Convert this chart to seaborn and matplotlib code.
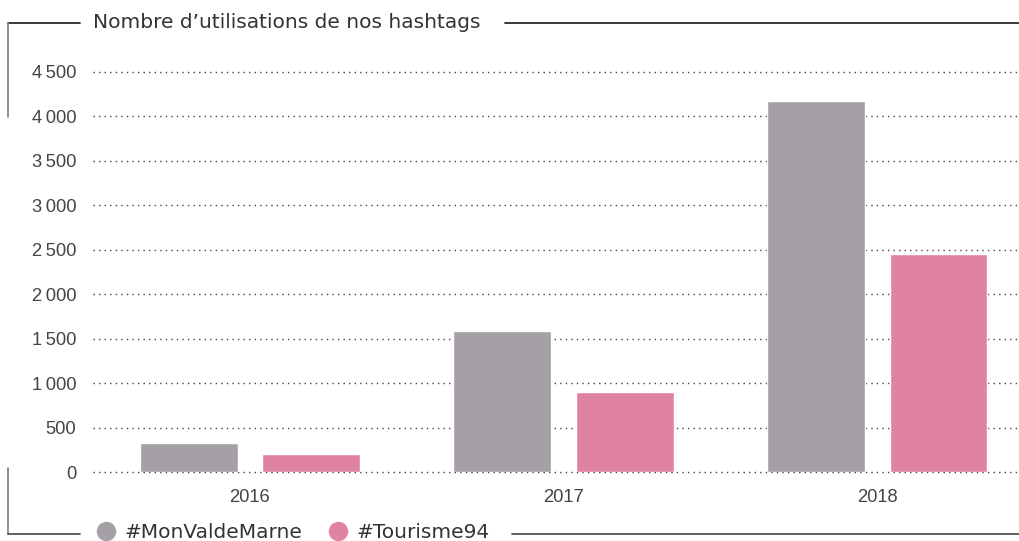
import pandas as pd
import matplotlib.pyplot as plt
import matplotlib.ticker as mticker
from matplotlib.lines import Line2D
import seaborn as sns

# ── Données ────────────────────────────────────────────────────────────────────
annees = ["2016", "2017", "2018"]
mon_val_de_marne = [325, 1590, 4170]
tourisme94 = [205, 900, 2450]
series = ["#MonValdeMarne", "#Tourisme94"]
y_ticks = [0, 500, 1000, 1500, 2000, 2500, 3000, 3500, 4000, 4500]

COR_GRIS = "#A59FA6"
COR_ROSE = "#E083A1"
COR_TEXTE = "#444444"

df = pd.DataFrame({
    "annee": annees * 2,
    "valeur": mon_val_de_marne + tourisme94,
    "serie": [series[0]] * 3 + [series[1]] * 3,
})

sns.set_theme(style="white")
plt.rcParams["font.family"] = ["Liberation Sans", "DejaVu Sans"]

fig = plt.figure(figsize=(10.2, 5.41), dpi=100)
ax = fig.add_axes([0.0912, 0.1275, 0.9088, 0.7725])

sns.barplot(data=df, x="annee", y="valeur", hue="serie", order=annees,
            palette=[COR_GRIS, COR_ROSE], width=0.78, gap=0.2,
            saturation=1, legend=False, ax=ax, zorder=3)

ax.set_ylim(0, 4700)
ax.set_xlim(-0.5, 2.455)
ax.set_yticks(y_ticks)
ax.yaxis.set_major_formatter(mticker.FuncFormatter(
    lambda v, _: f"{v:,.0f}".replace(",", "\u2009")))
ax.grid(axis="y", linestyle=(0, (1, 3)), color="#444444", linewidth=1.0, zorder=0)
ax.grid(axis="x", visible=False)
for gl in ax.get_ygridlines():
    gl.set_clip_on(False)
for s in ax.spines.values():
    s.set_visible(False)
ax.tick_params(axis="y", length=0, pad=12, labelsize=13.2, labelcolor=COR_TEXTE)
ax.tick_params(axis="x", length=0, pad=12, labelsize=13.2, labelcolor=COR_TEXTE)
ax.set_xlabel("")
ax.set_ylabel("")

# ── Cadre décoratif ────────────────────────────────────────────────────────────
W, H = 1020, 541
def px(x, y):
    return x / W, 1 - y / H

segments = [
    ((8, 23), (80, 23), "#2b2b2b"),
    ((505, 23), (1020, 23), "#2b2b2b"),
    ((8, 23), (8, 117), "#888888"),
    ((8, 468), (8, 534), "#888888"),
    ((8, 534), (80, 534), "#555555"),
    ((512, 534), (1020, 534), "#555555"),
]
for (x0, y0), (x1, y1), c in segments:
    (fx0, fy0), (fx1, fy1) = px(x0, y0), px(x1, y1)
    fig.add_artist(Line2D([fx0, fx1], [fy0, fy1], color=c, linewidth=1.3))

fig.text(*px(93, 22), "Nombre d\u2019utilisations de nos hashtags",
         family=["DejaVu Sans"], fontsize=14.5, color="#333333",
         va="center", ha="left")

# Légende
handles = [Line2D([], [], marker="o", linestyle="", markersize=13,
                  markerfacecolor=c, markeredgecolor=c) for c in (COR_GRIS, COR_ROSE)]
fig.legend(handles, series, loc="center left", bbox_to_anchor=px(84, 533),
           ncol=2, frameon=False, handletextpad=0.3, columnspacing=1.2,
           prop={"family": ["DejaVu Sans"], "size": 14.5},
           labelcolor="#333333", borderpad=0, handlelength=1.2)

plt.savefig("out.png", dpi=100)
plt.close()
